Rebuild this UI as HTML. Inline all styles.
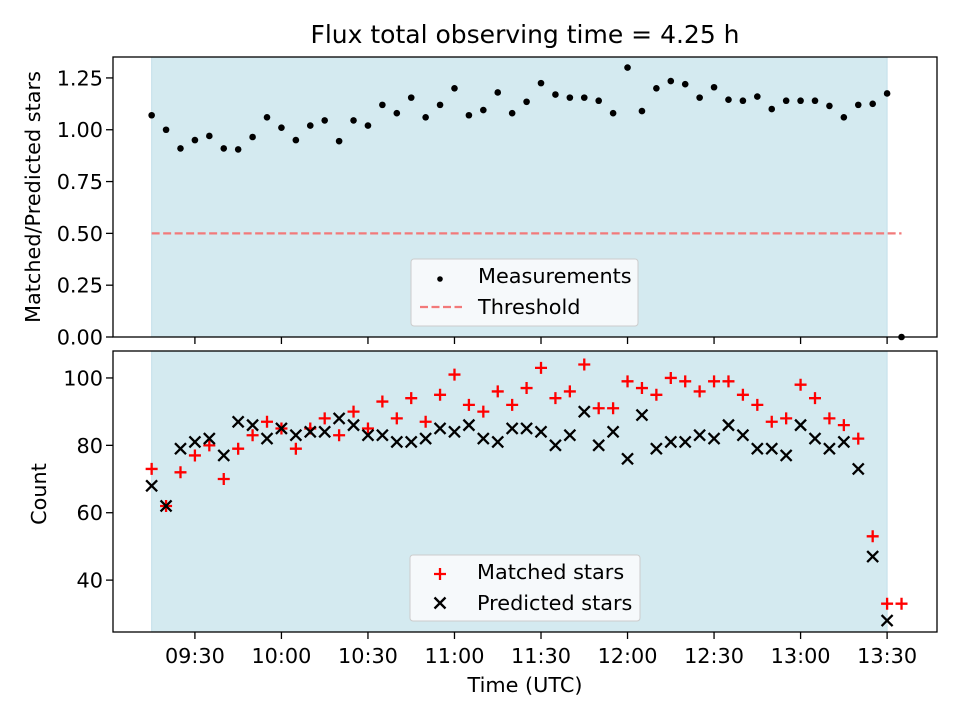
<!DOCTYPE html>
<html><head><meta charset="utf-8"><style>
body{margin:0;background:#fff;}
svg{display:block;font-family:"DejaVu Sans","Liberation Sans",sans-serif;}
</style></head><body>
<svg id="chart" width="960" height="720" viewBox="0 0 960 720"></svg>
<script>
const startMin = 9*60+15; // 09:15, 5-minute cadence
const ratioValues = [1.07,1.00,0.91,0.95,0.97,0.91,0.905,0.965,1.06,1.01,0.95,1.02,1.045,0.945,1.045,1.02,1.12,1.08,1.155,1.06,1.12,1.20,1.07,1.095,1.18,1.08,1.135,1.225,1.17,1.155,1.155,1.14,1.08,1.30,1.09,1.20,1.235,1.22,1.155,1.205,1.145,1.14,1.16,1.10,1.14,1.14,1.14,1.115,1.06,1.12,1.125,1.175,0.00];
const matchedValues = [73,62,72,77,80,70,79,83,87,85,79,85,88,83,90,85,93,88,94,87,95,101,92,90,96,92,97,103,94,96,104,91,91,99,97,95,100,99,96,99,99,95,92,87,88,98,94,88,86,82,53,33,33];
const predictedValues = [68,62,79,81,82,77,87,86,82,85,83,84,84,88,86,83,83,81,81,82,85,84,86,82,81,85,85,84,80,83,90,80,84,76,89,79,81,81,83,82,86,83,79,79,77,86,82,79,81,73,47,28,null];
const thresholdValue = 0.5;
const ratioTicks = [0,0.25,0.5,0.75,1.0,1.25];
const countTicks = [40,60,80,100];
const timeTicks = ["09:30","10:00","10:30","11:00","11:30","12:00","12:30","13:00","13:30"];

const NS="http://www.w3.org/2000/svg";
const svg=document.getElementById('chart');
function mk(tag,attrs,parent){const e=document.createElementNS(NS,tag);for(const k in attrs)e.setAttribute(k,attrs[k]);(parent||svg).appendChild(e);return e;}
const FS=20.8;
const L=113,R=937;
const xMin=9*60+1.6, xMax=13*60+47.3;
function X(m){return L+(m-xMin)/(xMax-xMin)*(R-L);}
const T={top:57,bot:337,min:0,max:1.351};
const B={top:351,bot:632,min:24.6,max:108.0};
function Y(p,v){return p.bot-(v-p.min)/(p.max-p.min)*(p.bot-p.top);}
function tmin(s){const [h,m]=s.split(':');return +h*60+ +m;}
const shadeStart=startMin, shadeEnd=startMin+5*51;

let t=mk('text',{x:525,y:43,'text-anchor':'middle','font-size':25,fill:'#000'});
t.textContent='Flux total observing time = 4.25 h';



function panel(p,name){
  const g=mk('g',{});
  
  
  const sh=mk('rect',{x:X(shadeStart),y:p.top,width:X(shadeEnd)-X(shadeStart),height:p.bot-p.top,fill:'#d4eaf0',stroke:'#c3e0ea','stroke-width':1},g);
  
  
  return g;
}
function frame(p,g){
  const f=mk('rect',{x:L,y:p.top,width:R-L,height:p.bot-p.top,fill:'none',stroke:'#000','stroke-width':1.3},g);
  
  
  timeTicks.forEach(s=>{const x=X(tmin(s));mk('line',{x1:x,x2:x,y1:p.bot,y2:p.bot+7,stroke:'#000','stroke-width':1.3},g);});
}

// TOP
const gt=panel(T,'ratio-panel');
const th=mk('line',{x1:X(startMin),x2:X(startMin+5*52),y1:Y(T,thresholdValue),y2:Y(T,thresholdValue),stroke:'#f27a7a','stroke-width':2.2,'stroke-dasharray':'8,3.5'},gt);


ratioValues.forEach((v,i)=>{
  const c=mk('circle',{cx:X(startMin+5*i),cy:Y(T,v),r:3.3,fill:'#000'},gt);
  
  
});
frame(T,gt);
ratioTicks.forEach(v=>{const y=Y(T,v);mk('line',{x1:L-7,x2:L,y1:y,y2:y,stroke:'#000','stroke-width':1.3},gt);
  const tx=mk('text',{x:L-10,y:y+7.5,'text-anchor':'end','font-size':FS},gt);tx.textContent=v.toFixed(2);
  });
let yl=mk('text',{x:40,y:197,'text-anchor':'middle','font-size':FS,transform:'rotate(-90 40 197)'});
yl.textContent='Matched/Predicted stars';



const lg=mk('g',{});


mk('rect',{x:411,y:259,width:227,height:67,rx:3,fill:'#f6f9fb',stroke:'#ccc'},lg);
mk('circle',{cx:440,cy:279,r:2.8,fill:'#000'},lg);
let lt=mk('text',{x:478,y:283,'font-size':FS},lg);lt.textContent='Measurements';
mk('line',{x1:420,x2:462,y1:307,y2:307,stroke:'#f27a7a','stroke-width':2.2,'stroke-dasharray':'8,3.5'},lg);
lt=mk('text',{x:478,y:314,'font-size':FS},lg);lt.textContent='Threshold';

// BOTTOM
const gb=panel(B,'count-panel');
function plus(x,y,g){return mk('path',{d:`M${x-6},${y}H${x+6}M${x},${y-6}V${y+6}`,stroke:'#f00','stroke-width':2.3},g);}
function cross(x,y,g){return mk('path',{d:`M${x-5.5},${y-5.5}L${x+5.5},${y+5.5}M${x-5.5},${y+5.5}L${x+5.5},${y-5.5}`,stroke:'#000','stroke-width':2.3},g);}
matchedValues.forEach((v,i)=>{const p=plus(X(startMin+5*i),Y(B,v),gb);
  
  });
predictedValues.forEach((v,i)=>{if(v==null)return;const p=cross(X(startMin+5*i),Y(B,v),gb);
  
  });
frame(B,gb);
countTicks.forEach(v=>{const y=Y(B,v);mk('line',{x1:L-7,x2:L,y1:y,y2:y,stroke:'#000','stroke-width':1.3},gb);
  const tx=mk('text',{x:L-10,y:y+7.5,'text-anchor':'end','font-size':FS},gb);tx.textContent=v;
  });
timeTicks.forEach(s=>{const tx=mk('text',{x:X(tmin(s)),y:663,'text-anchor':'middle','font-size':FS},gb);tx.textContent=s;
  });
yl=mk('text',{x:46,y:494,'text-anchor':'middle','font-size':FS,transform:'rotate(-90 46 494)'});
yl.textContent='Count';


let xl=mk('text',{x:525,y:692,'text-anchor':'middle','font-size':FS});
xl.textContent='Time (UTC)';



const lb=mk('g',{});


mk('rect',{x:410,y:555,width:230,height:66,rx:3,fill:'#f6f9fb',stroke:'#ccc'},lb);
plus(440,574,lb);
lt=mk('text',{x:477,y:579,'font-size':FS},lb);lt.textContent='Matched stars';
cross(440,603,lb);
lt=mk('text',{x:477,y:610,'font-size':FS},lb);lt.textContent='Predicted stars';
</script>
</body></html>
